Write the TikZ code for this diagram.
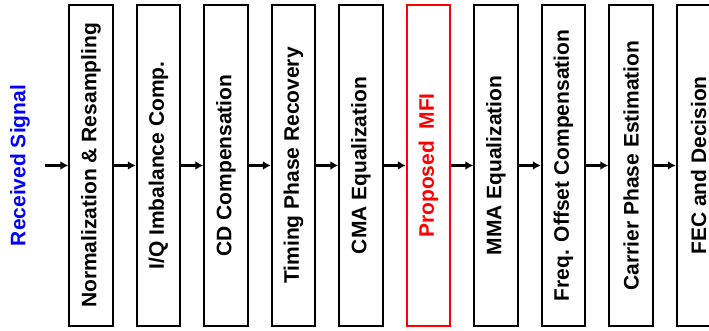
\documentclass[tikz,border=0pt]{standalone}
\usepackage{fontspec}
\setmainfont{Liberation Sans}
\usetikzlibrary{positioning}
\usetikzlibrary{arrows.meta}
\newcommand{\vlabel}[1]{\rotatebox{90}{#1}} % Vertical text inside a block
\tikzset{node distance=22pt, % Gap between two blocks
      block/.style={ % Sets the properties for each processing block
      draw,
      line width=2pt,
      minimum width=43.5pt,
      minimum height=321pt,
      inner sep=0pt,
      font=\bfseries\fontsize{21}{25}\selectfont},
      proposed/.style={ % Highlighted block
      block,
      draw=red,
      text=red},
      flow/.style={ % Sets the properties for each connector
      draw,
      -{Latex[length=8pt,width=9pt]}, % Bold arrowheads
      line width=3pt}}

\begin{document}
\begin{tikzpicture}
      \useasboundingbox (0,0) rectangle (709pt,331pt);
      \node[text=blue, font=\bfseries\fontsize{21}{25}\selectfont] (sig) at (20pt,165.5pt) {\vlabel{Received Signal}};
      \coordinate (in) at (45pt,165.5pt);
      \node[block] (norm) at (91pt,165.5pt) {\vlabel{Normalization \& Resampling}};
      \node[block, right=of norm] (iq) {\vlabel{I/Q Imbalance Comp.}};
      \node[block, right=of iq] (cd) {\vlabel{CD Compensation}};
      \node[block, right=of cd] (tpr) {\vlabel{Timing Phase Recovery}};
      \node[block, right=of tpr] (cma) {\vlabel{CMA Equalization}};
      \node[proposed, right=of cma] (mfi) {\vlabel{Proposed~~MFI}};
      \node[block, right=of mfi] (mma) {\vlabel{MMA Equalization}};
      \node[block, right=of mma] (foc) {\vlabel{Freq. Offset Compensation}};
      \node[block, right=of foc] (cpe) {\vlabel{Carrier Phase Estimation}};
      \node[block, right=of cpe] (fec) {\vlabel{FEC and Decision}};
      \draw[flow] (in) -- (norm);
      \draw[flow] (norm) -- (iq);
      \draw[flow] (iq) -- (cd);
      \draw[flow] (cd) -- (tpr);
      \draw[flow] (tpr) -- (cma);
      \draw[flow] (cma) -- (mfi);
      \draw[flow] (mfi) -- (mma);
      \draw[flow] (mma) -- (foc);
      \draw[flow] (foc) -- (cpe);
      \draw[flow] (cpe) -- (fec);
\end{tikzpicture}
\end{document}
